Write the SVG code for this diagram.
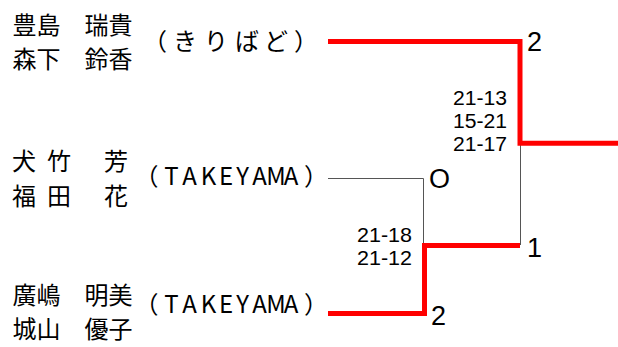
<svg xmlns="http://www.w3.org/2000/svg" width="618" height="347" viewBox="0 0 618 347">
<style>
.nm{font-family:"Noto Sans CJK JP","Noto Sans CJK SC",sans-serif;font-size:24px;fill:#000}
.tm{font-family:"Noto Sans CJK JP","Noto Sans CJK SC",sans-serif;font-size:24px;fill:#000;text-anchor:middle}
.sc{font-family:"Liberation Sans",Arial,sans-serif;font-size:20.5px;fill:#000}
.rs{font-family:"Liberation Sans",Arial,sans-serif;font-size:27px;fill:#000}
.win{fill:none;stroke:#ff0000;stroke-width:5;stroke-linejoin:miter;stroke-linecap:butt}
.lose{fill:none;stroke:#555;stroke-width:1}
</style>
<rect width="618" height="347" fill="#fff"/>
<g id="connectors">
<path class="lose" d="M520.5,143 V245"/>
<path class="lose" d="M328,178.5 H423.5 V245"/>
<path class="win" d="M328,41.5 H520 V143.3 H618"/>
<path class="win" d="M520,245.5 H424.5 V313.5 H328"/>
</g>
<g id="entry1">
<text class="nm" x="12.5" y="33.5">豊島　瑞貴</text>
<text class="nm" x="12.5" y="67.5">森下　鈴香</text>
<text class="tm" x="155 185 216 247 276 306" y="50">（きりばど）</text>
</g>
<g id="entry2">
<text class="nm" x="12 47 80 104" y="169.5">犬竹　芳</text>
<text class="nm" x="12 47 80 104" y="204.5">福田　花</text>
<text class="tm" x="146.5 171.5 189.5 208.5 226 242.5 259.5 276 291 316" y="184.5">（TAKEYAMA）</text>
</g>
<g id="entry3">
<text class="nm" x="12.5" y="303.5">廣嶋　明美</text>
<text class="nm" x="12.5" y="337.5">城山　優子</text>
<text class="tm" x="146.5 171.5 189.5 208.5 226 242.5 259.5 276 291 316" y="313">（TAKEYAMA）</text>
</g>
<g id="match1">
<text class="sc" x="357" y="242" textLength="55" lengthAdjust="spacingAndGlyphs">21-18</text>
<text class="sc" x="357" y="265" textLength="55" lengthAdjust="spacingAndGlyphs">21-12</text>
<text class="rs" x="429" y="187.5" font-size="25">O</text>
<text class="rs" x="431" y="324.5">2</text>
</g>
<g id="final">
<text class="sc" x="453" y="105" textLength="54" lengthAdjust="spacingAndGlyphs">21-13</text>
<text class="sc" x="453" y="128" textLength="54" lengthAdjust="spacingAndGlyphs">15-21</text>
<text class="sc" x="453" y="151" textLength="54" lengthAdjust="spacingAndGlyphs">21-17</text>
<text class="rs" x="527" y="50.5">2</text>
<text class="rs" x="527" y="257">1</text>
</g>
</svg>
